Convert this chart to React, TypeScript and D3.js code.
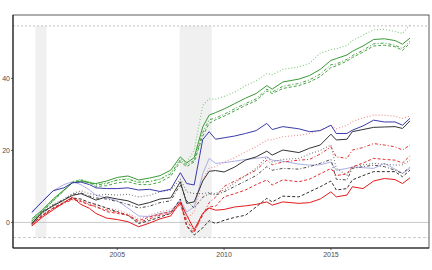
import * as d3 from "d3";

// quarter-ish sample dates (decimal years)
const dates = [
  2001.0, 2001.5, 2002.0, 2002.5, 2002.9, 2003.3, 2003.7, 2004.0, 2004.5, 2005.0,
  2005.5, 2006.0, 2006.5, 2007.0, 2007.5, 2007.95, 2008.25, 2008.6, 2009.0, 2009.3,
  2009.6, 2010.0, 2010.5, 2011.0, 2011.5, 2012.0, 2012.25, 2012.75, 2013.5, 2014.0,
  2014.5, 2015.0, 2015.25, 2015.75, 2016.0, 2016.5, 2017.0, 2017.5, 2018.0, 2018.35,
  2018.7,
];

const greenSolid = [
  1.0, 3.5, 6.5, 9.0, 11.0, 11.5, 11.0, 10.8, 11.5, 12.5, 12.9, 11.8, 12.3, 13.0, 14.5,
  18.2, 16.5, 18.0, 26.5, 29.8, 30.5, 31.5, 33.0, 34.5, 35.8, 38.0, 37.0, 39.0, 39.8,
  40.8, 42.5, 45.0, 45.5, 46.5, 47.5, 49.0, 50.8, 51.0, 50.5, 49.5, 51.2,
];
const greenDashed = [
  0.3, 3.0, 6.0, 8.8, 11.2, 11.8, 11.0, 10.0, 10.2, 11.0, 11.3, 10.5, 10.5, 11.2, 12.8,
  16.8, 15.5, 16.8, 24.0, 27.5, 28.5, 29.5, 31.0, 32.5, 33.8, 36.5, 35.8, 37.2, 38.0,
  39.0, 40.5, 43.0, 43.5, 44.8, 45.8, 47.3, 49.0, 49.2, 48.8, 47.8, 49.8,
];
const greenDotDash = [
  0.5, 3.2, 6.2, 8.9, 11.0, 11.5, 11.2, 10.4, 10.8, 11.8, 12.0, 11.2, 11.4, 12.0, 13.5,
  17.3, 16.0, 17.2, 25.0, 28.5, 29.0, 30.0, 31.6, 33.0, 34.3, 37.0, 36.2, 37.8, 38.6,
  39.6, 41.2, 43.8, 44.0, 45.3, 46.3, 47.8, 49.6, 49.8, 49.2, 48.3, 50.3,
];
const greenDotted = [
  0.5, 3.2, 6.0, 8.8, 11.3, 12.0, 11.3, 10.6, 11.0, 11.8, 12.2, 11.0, 11.2, 12.0, 13.8,
  17.6, 16.8, 20.0, 32.5, 34.3, 34.2, 35.0, 36.2, 38.0, 39.3, 41.4, 41.0, 42.5, 43.2,
  44.2, 47.0, 48.0, 48.2, 49.2, 50.5, 52.0, 53.5, 53.6, 53.0, 52.5, 54.8,
];
const blueSolid = [
  2.9, 5.8, 8.8, 9.6, 11.0, 11.2, 10.5, 9.6, 9.4, 9.4, 9.6, 9.0, 9.2, 8.6, 9.2, 13.8,
  10.8, 10.4, 23.0, 25.2, 23.1, 23.5, 24.0, 24.7, 25.5, 27.5, 25.8, 26.6, 26.0, 25.2,
  25.5, 27.0, 24.7, 24.7, 25.6, 26.8, 28.4, 27.9, 27.9, 27.0, 28.9,
];
const lavenderSolid = [
  2.6, 6.0, 8.8, 10.5, 11.3, 10.5, 9.0, 7.6, 6.8, 6.0, 4.0, 1.8, 1.6, 2.5, 3.0, 6.2,
  2.9, 4.3, 13.5, 17.8, 16.4, 16.6, 17.0, 17.5, 17.8, 18.2, 17.3, 17.0, 16.2, 15.9,
  16.0, 16.8, 14.5, 15.0, 15.4, 15.2, 15.0, 16.4, 14.8, 13.6, 15.0,
];
const blackSolid = [
  -0.3, 2.9, 4.6, 6.2, 7.5, 8.0, 7.0, 6.2, 7.1, 6.5, 6.0, 4.8, 5.5, 6.5, 6.8, 11.3,
  5.3, 5.7, 11.5, 14.2, 14.4, 14.0, 15.4, 17.3, 18.2, 19.8, 18.7, 20.1, 19.4, 20.6,
  21.5, 24.5, 22.9, 23.1, 25.2, 25.8, 26.4, 26.5, 26.6, 26.1, 28.2,
];
const blackDashed = [
  -0.5, 2.0, 4.0, 5.5, 6.8, 6.5, 5.5, 5.0, 4.0, 3.0, 2.0, -0.3, 0.5, 1.5, 2.5, 6.5,
  -1.0, -3.5, -1.5, 0.5, -0.3, 0.6, 1.4, 2.0, 4.3, 6.7, 5.7, 7.3, 7.1, 8.5, 9.9, 11.5,
  9.0, 9.4, 11.8, 13.0, 14.1, 14.1, 14.1, 12.7, 14.5,
];
const greyDotted = [
  0.0, 3.0, 5.0, 6.5, 8.0, 8.8, 8.0, 7.5, 7.8, 7.6, 7.8, 7.1, 7.5, 8.5, 9.0, 12.0, 8.5,
  8.0, 8.0, 8.3, 8.0, 9.0, 11.0, 13.0, 15.0, 18.2, 16.8, 17.5, 17.8, 19.0, 20.0, 21.5,
  15.0, 13.1, 15.4, 16.0, 16.4, 16.2, 15.9, 16.0, 17.3,
];
const blackDotDash = [
  -0.3, 2.6, 4.8, 6.3, 7.8, 8.2, 7.3, 6.8, 6.5, 5.8, 5.0, 4.0, 4.5, 5.5, 6.0, 10.5,
  6.0, 4.0, 7.0, 8.0, 7.6, 8.5, 10.0, 11.5, 13.0, 15.5, 14.5, 15.0, 14.8, 15.5, 16.4,
  17.5, 12.0, 11.8, 15.0, 15.5, 15.9, 15.5, 14.5, 13.6, 15.4,
];
const redSolid = [
  -1.0, 1.5, 3.5, 5.5, 7.0, 5.0, 3.9, 2.5, 1.2, 0.8, 0.2, -1.2, -0.2, 1.0, 1.8, 5.7,
  2.0, -2.0, 2.5, 4.0, 3.4, 3.6, 4.3, 4.6, 5.0, 5.7, 4.8, 5.7, 5.3, 5.5, 6.5, 8.5, 7.1,
  7.6, 9.9, 9.4, 11.5, 12.2, 11.9, 10.8, 12.4,
];
const redDashed = [
  -0.5, 2.0, 4.0, 5.5, 6.5, 5.8, 4.8, 4.5, 3.0, 2.5, 2.0, 0.5, 1.5, 2.3, 3.0, 5.5,
  -1.0, -2.8, 2.5, 4.3, 4.5, 7.1, 8.0, 9.0, 10.5, 11.8, 10.4, 11.8, 11.3, 12.0, 13.5,
  15.0, 13.0, 13.5, 15.4, 16.5, 17.8, 17.5, 17.3, 16.5, 18.5,
];
const redDotDash = [
  -0.8, 1.8, 3.8, 5.3, 6.3, 6.0, 5.0, 4.2, 3.5, 2.8, 2.0, 0.0, 1.0, 2.0, 2.5, 5.0, 0.5,
  -2.5, 2.0, 5.5, 7.0, 10.0, 11.5, 13.0, 14.5, 17.3, 16.0, 16.8, 17.3, 17.5, 19.0, 21.0,
  18.2, 17.8, 20.1, 20.8, 21.9, 21.5, 21.0, 20.1, 21.5,
];
const pinkDotted = [
  -0.5, 2.2, 4.2, 5.8, 6.8, 6.2, 5.5, 5.0, 4.0, 3.5, 2.5, 1.0, 2.0, 3.0, 3.5, 5.5, 1.0,
  3.0, 12.0, 15.0, 15.5, 16.8, 18.0, 19.6, 21.0, 22.9, 23.0, 23.8, 24.2, 24.7, 25.6,
  27.0, 26.0, 27.0, 28.0, 29.0, 29.8, 29.8, 29.5, 28.9, 29.5,
];

const recessions = [
  [2001.17, 2001.69],
  [2007.92, 2009.42],
];
const upperRef = 54.6;
const lowerRef = -4.2;
const yTicks = [0, 20, 40];
const xTicks = [2005, 2010, 2015];

const W = 432;
const H = 270;
const margin = { top: 15, right: 3, bottom: 22, left: 13 };

export default function App() {
  const x = d3
    .scaleLinear()
    .domain([2000.12, 2019.59])
    .range([margin.left, W - margin.right]);
  const y = d3
    .scaleLinear()
    .domain([-7.1, 57.6])
    .range([H - margin.bottom, margin.top]);

  const line = d3
    .line<number>()
    .x((_, i) => x(dates[i]))
    .y((d) => y(d));

  const series = [
    { v: greenDotted, color: "#7fcb7a", dash: "1,2", w: 1.1 },
    { v: pinkDotted, color: "#ef9090", dash: "1,2", w: 1.1 },
    { v: lavenderSolid, color: "#adaee6", dash: null, w: 1 },
    { v: greyDotted, color: "#7a7a7a", dash: "1,2", w: 1.1 },
    { v: blackDotDash, color: "#4a4a4a", dash: "1,2,3,2", w: 1 },
    { v: blackDashed, color: "#2e2e2e", dash: "3,2", w: 1 },
    { v: redDotDash, color: "#e3302f", dash: "1,2,3,2", w: 1 },
    { v: redDashed, color: "#e3302f", dash: "3,2", w: 1 },
    { v: redSolid, color: "#e41a1c", dash: null, w: 1 },
    { v: greenDotDash, color: "#46a443", dash: "1,2,3,2", w: 1 },
    { v: greenDashed, color: "#46a443", dash: "3,2", w: 1 },
    { v: greenSolid, color: "#3a9a37", dash: null, w: 1 },
    { v: blackSolid, color: "#333333", dash: null, w: 1 },
    { v: blueSolid, color: "#3b3bab", dash: null, w: 1 },
  ];

  const x0 = margin.left;
  const x1 = W - margin.right;
  const yb = H - margin.bottom;

  return (
    <svg width={W} height={H} style={{ position: "absolute", left: 0, top: 0 }}>
      <rect x={0} y={0} width={W} height={H} fill="white" />
      {recessions.map(([a, b], i) => (
        <rect
          key={i}
          x={x(a)}
          y={y(upperRef)}
          width={x(b) - x(a)}
          height={y(lowerRef) - y(upperRef)}
          fill="#f0f0f0"
        />
      ))}
      <line x1={x0} x2={x1} y1={y(upperRef)} y2={y(upperRef)} stroke="#cccccc" strokeWidth={1.2} strokeDasharray="2,2" />
      <line x1={x0} x2={x1} y1={y(lowerRef)} y2={y(lowerRef)} stroke="#bbbbbb" strokeWidth={0.8} strokeDasharray="3,2" />
      <line x1={x0} x2={x1} y1={y(0)} y2={y(0)} stroke="#bbbbbb" strokeWidth={0.8} />
      {series.map((s, i) => (
        <path
          key={i}
          d={line(s.v) ?? ""}
          fill="none"
          stroke={s.color}
          strokeWidth={s.w}
          strokeDasharray={s.dash ?? undefined}
        />
      ))}
      <rect x={x0} y={margin.top} width={x1 - x0} height={yb - margin.top} fill="none" stroke="#333333" strokeWidth={0.8} />
      <line x1={x0} x2={x0} y1={margin.top} y2={yb} stroke="#222" strokeWidth={1.1} />
      <line x1={x0} x2={x1} y1={yb} y2={yb} stroke="#222" strokeWidth={1.1} />
      {yTicks.map((t) => (
        <g key={t}>
          <line x1={x0 - 2} x2={x0} y1={y(t)} y2={y(t)} stroke="#333" strokeWidth={0.8} />
          <text x={x0 - 3} y={y(t)} dy="0.35em" textAnchor="end" fontSize={7} fill="#4d4d4d" fontFamily="Liberation Sans, Arial, sans-serif">
            {t}
          </text>
        </g>
      ))}
      {xTicks.map((t) => (
        <g key={t}>
          <line x1={x(t)} x2={x(t)} y1={yb} y2={yb + 2} stroke="#333" strokeWidth={0.8} />
          <text x={x(t)} y={yb + 9} textAnchor="middle" fontSize={7} fill="#4d4d4d" fontFamily="Liberation Sans, Arial, sans-serif">
            {t}
          </text>
        </g>
      ))}
    </svg>
  );
}
